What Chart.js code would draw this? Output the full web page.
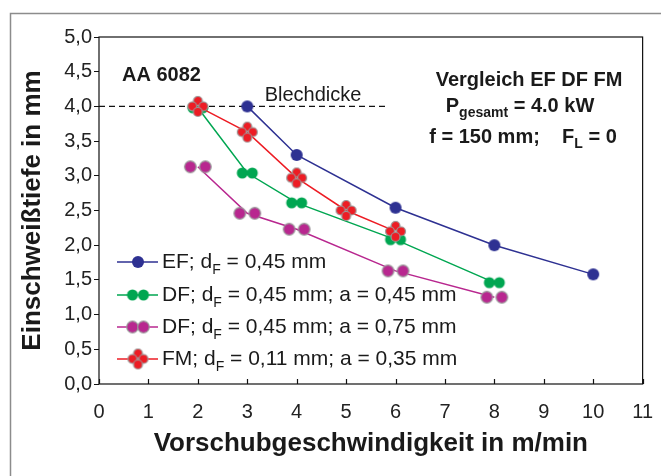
<!DOCTYPE html>
<html>
<head>
<meta charset="utf-8">
<script src="https://cdn.jsdelivr.net/npm/chart.js@4.4.1/dist/chart.umd.min.js"></script>
<style>
    body { margin: 0; background: #fff; }
    #wrap { width: 661px; height: 476px; }
</style>
</head>
<body>
<div id="wrap"><canvas id="chart" width="661" height="476"></canvas></div>
<script>
// data
const xTicks = [0, 1, 2, 3, 4, 5, 6, 7, 8, 9, 10, 11];
const yTicks = [0, 0.5, 1, 1.5, 2, 2.5, 3, 3.5, 4, 4.5, 5];

const efX = [3, 4, 6, 8, 10];
const efY = [4.0, 3.30, 2.54, 2.00, 1.58];

const df45X = [2, 3, 4, 6, 8];
const df45Y = [3.98, 3.04, 2.61, 2.08, 1.46];

const df75X = [2, 3, 4, 6, 8];
const df75Y = [3.13, 2.46, 2.23, 1.63, 1.25];

const fmX = [2, 3, 4, 5, 6];
const fmY = [4.0, 3.63, 2.97, 2.50, 2.20];

const blechX = [0, 5.85];
const blechY = [4.0, 4.0];

const legendLabels = [
    ["EF; d", "F", " = 0,45 mm"],
    ["DF; d", "F", " = 0,45 mm; a = 0,45 mm"],
    ["DF; d", "F", " = 0,45 mm; a = 0,75 mm"],
    ["FM; d", "F", " = 0,11 mm; a = 0,35 mm"]
];

const blue = "#2e3192";
const green = "#00a651";
const magenta = "#b8278f";
const red = "#ed1c24";
const ring = "#9a9a9a";

const FONT = "'Liberation Sans', Arial, sans-serif";

function toPoints(xs, ys) {
    return xs.map((x, i) => ({ x: x, y: ys[i] }));
}

// marker images
function makeCircle(color, r) {
    const c = document.createElement("canvas");
    c.width = c.height = Math.ceil(2 * r + 2);
    const g = c.getContext("2d");
    g.fillStyle = color;
    g.beginPath();
    g.arc(c.width / 2, c.height / 2, r, 0, Math.PI * 2);
    g.fill();
    return c;
}

function makePair(color, gap, r, stroke) {
    const c = document.createElement("canvas");
    c.width = Math.ceil(gap + 2 * r + 3);
    c.height = Math.ceil(2 * r + 3);
    const g = c.getContext("2d");
    [-gap / 2, gap / 2].forEach(dx => {
        g.beginPath();
        g.arc(c.width / 2 + dx, c.height / 2, r, 0, Math.PI * 2);
        g.fillStyle = color;
        g.fill();
        if (stroke) { g.strokeStyle = stroke; g.lineWidth = 1.2; g.stroke(); }
    });
    return c;
}

function makeCluster(color, off, r, stroke) {
    const c = document.createElement("canvas");
    c.width = c.height = Math.ceil(2 * off + 2 * r + 3);
    const g = c.getContext("2d");
    const m = c.width / 2;
    [[0, -off], [-off, 0], [off, 0], [0, off]].forEach(([dx, dy]) => {
        g.beginPath();
        g.arc(m + dx, m + dy, r, 0, Math.PI * 2);
        g.fillStyle = color;
        g.fill();
        g.strokeStyle = stroke; g.lineWidth = 1.2; g.stroke();
    });
    return c;
}

const efMark = makeCircle(blue, 6);
const df45Mark = makePair(green, 10, 5.5, null);
const df75Mark = makePair(magenta, 15, 5.8, ring);
const df45Leg = makePair(green, 11, 5.5, null);
const df75Leg = makePair(magenta, 11, 5.8, ring);
const fmMark = makeCluster(red, 5.5, 4.5, ring);

// text with one subscript part
function drawSubText(ctx, parts, x, y, size, bold, align) {
    const w = bold ? "bold " : "";
    const big = w + size + "px " + FONT;
    const small = w + Math.round(size * 0.68) + "px " + FONT;
    ctx.font = big;
    const w0 = ctx.measureText(parts[0]).width;
    const w2 = ctx.measureText(parts[2]).width;
    ctx.font = small;
    const w1 = ctx.measureText(parts[1]).width;
    let sx = x;
    if (align === "center") sx = x - (w0 + w1 + w2) / 2;
    ctx.textAlign = "left";
    ctx.textBaseline = "middle";
    ctx.font = big;
    ctx.fillText(parts[0], sx, y);
    ctx.font = small;
    ctx.fillText(parts[1], sx + w0, y + size * 0.38);
    ctx.font = big;
    ctx.fillText(parts[2], sx + w0 + w1, y);
}

const decorPlugin = {
    id: "decor",
    beforeDraw(chart) {
        const ctx = chart.ctx;
        ctx.save();
        ctx.fillStyle = "#fff";
        ctx.fillRect(0, 0, chart.width, chart.height);
        ctx.strokeStyle = "#8c8c8c";
        ctx.lineWidth = 1.5;
        ctx.strokeRect(10.5, 13.5, 700, 500);
        ctx.restore();
    },
    afterDraw(chart) {
        const ctx = chart.ctx;
        const a = chart.chartArea;
        const xs = chart.scales.x;
        ctx.save();
        // plot frame
        ctx.strokeStyle = "#111";
        ctx.lineWidth = 1.2;
        ctx.strokeRect(a.left, a.top, a.right - a.left, a.bottom - a.top);
        // inward x ticks
        xTicks.forEach(v => {
            const px = Math.round(xs.getPixelForValue(v)) + 0.5;
            ctx.beginPath();
            ctx.moveTo(px, a.bottom);
            ctx.lineTo(px, a.bottom - 5);
            ctx.stroke();
        });

        ctx.fillStyle = "#1a1a1a";
        // Blechdicke
        ctx.font = "20px " + FONT;
        ctx.textAlign = "center";
        ctx.textBaseline = "middle";
        ctx.fillText("Blechdicke", 313, 95);

        ctx.font = "bold 20px " + FONT;
        ctx.textAlign = "left";
        ctx.fillText("AA 6082", 122, 75);

        ctx.textAlign = "center";
        ctx.fillText("Vergleich EF DF FM", 529, 80);
        drawSubText(ctx, ["P", "gesamt", " = 4.0 kW"], 520, 106, 20, true, "center");
        drawSubText(ctx, ["f = 150 mm;    F", "L", " = 0"], 523, 137, 20, true, "center");

        // legend
        const rows = [262, 295, 327, 359];
        const cols = [blue, green, magenta, red];
        const marks = [efMark, df45Leg, df75Leg, fmMark];
        rows.forEach((ry, i) => {
            ctx.strokeStyle = cols[i];
            ctx.lineWidth = 1.5;
            ctx.beginPath();
            ctx.moveTo(117, ry);
            ctx.lineTo(158, ry);
            ctx.stroke();
            const m = marks[i];
            ctx.drawImage(m, 138 - m.width / 2, ry - m.height / 2);
            ctx.fillStyle = "#1a1a1a";
            drawSubText(ctx, legendLabels[i], 162, ry, 21, false, "left");
        });
        ctx.restore();
    }
};

function lineSet(label, xs, ys, color, mark) {
    return {
        label: label,
        data: toPoints(xs, ys),
        showLine: true,
        borderColor: color,
        borderWidth: 1.5,
        backgroundColor: color,
        pointStyle: mark,
        pointRadius: 6,
        pointHoverRadius: 6
    };
}

const ctx = document.getElementById("chart").getContext("2d");
new Chart(ctx, {
    type: "scatter",
    data: {
        datasets: [
            lineSet("FM", fmX, fmY, red, fmMark),
            lineSet("EF", efX, efY, blue, efMark),
            lineSet("DF 0,45", df45X, df45Y, green, df45Mark),
            lineSet("DF 0,75", df75X, df75Y, magenta, df75Mark),
            {
                label: "Blechdicke",
                data: toPoints(blechX, blechY),
                showLine: true,
                borderColor: "#111",
                borderWidth: 1.3,
                borderDash: [6, 4],
                pointRadius: 0
            }
        ]
    },
    options: {
        responsive: false,
        animation: false,
        layout: { padding: { top: 37, right: 10, left: 0, bottom: 0 } },
        plugins: {
            legend: { display: false },
            tooltip: { enabled: false }
        },
        scales: {
            x: {
                type: "linear",
                min: 0,
                max: 11,
                afterFit: s => { s.height = 92; },
                afterBuildTicks: s => { s.ticks = xTicks.map(v => ({ value: v })); },
                grid: { display: false },
                border: { display: false },
                ticks: {
                    padding: 8,
                    color: "#222",
                    font: { family: FONT, size: 20 }
                },
                title: {
                    display: true,
                    text: "Vorschubgeschwindigkeit in m/min",
                    color: "#1a1a1a",
                    font: { family: FONT, size: 26, weight: "bold" },
                    padding: { bottom: 17 }
                }
            },
            y: {
                min: 0,
                max: 5,
                afterFit: s => { s.width = 99; },
                afterBuildTicks: s => { s.ticks = yTicks.map(v => ({ value: v })); },
                grid: { drawOnChartArea: false, tickLength: 5, color: "#111" },
                border: { display: false },
                ticks: {
                    padding: 2,
                    color: "#222",
                    font: { family: FONT, size: 20 },
                    callback: v => v.toFixed(1).replace(".", ",")
                },
                title: {
                    display: true,
                    text: "Einschweißtiefe in mm",
                    color: "#1a1a1a",
                    font: { family: FONT, size: 26, weight: "bold" },
                    padding: { top: 17 }
                }
            }
        }
    },
    plugins: [decorPlugin]
});
</script>
</body>
</html>
